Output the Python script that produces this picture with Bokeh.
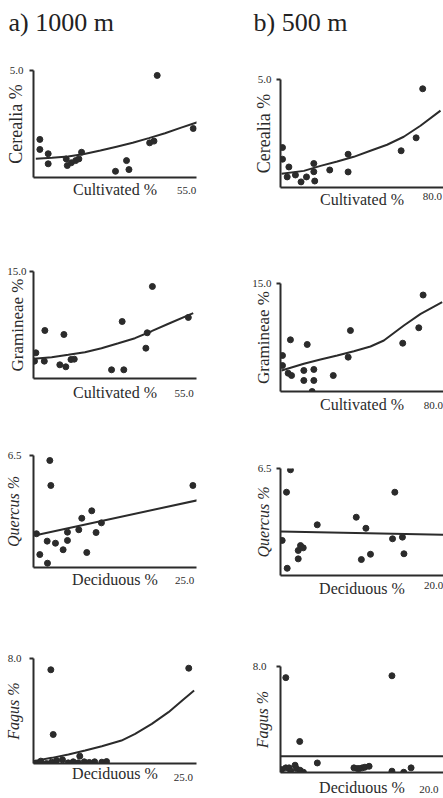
from bokeh.plotting import figure
from bokeh.layouts import row, column
from bokeh.models import Range1d, FixedTicker, NumeralTickFormatter, Title
from bokeh.embed import file_html
from bokeh.resources import INLINE

FONT = "Liberation Serif"
INK = "#2b2b2b"

# ---------------- data ----------------
titles = ["a) 1000 m", "b) 500 m"]

# Cerealia % vs Cultivated %, 1000 m
cer1000_x = [0.5, 0.5, 3.6, 3.6, 10.3, 10.7, 12.2, 13.8, 15.0, 16.0, 28.6, 32.7, 33.6, 41.3, 42.9, 44.1, 57.5]
cer1000_y = [1.78, 1.31, 1.11, 0.64, 0.87, 0.56, 0.69, 0.79, 0.87, 1.18, 0.29, 0.79, 0.37, 1.62, 1.70, 4.77, 2.29]
cer1000_fit_x = [-1, 5, 11, 17, 23, 29, 35, 41, 47, 53, 60]
cer1000_fit_y = [0.88, 0.92, 0.98, 1.10, 1.26, 1.44, 1.62, 1.84, 2.07, 2.33, 2.62]

# Cerealia % vs Cultivated %, 500 m
cer500_x = [0, 0, 3.4, 2.5, 6.9, 9.9, 12.8, 16.7, 16.7, 17.2, 25.2, 35.0, 35.0, 63.3, 71.3, 74.8]
cer500_y = [1.85, 1.31, 0.95, 0.49, 0.58, 0.26, 0.49, 1.11, 0.73, 0.30, 0.81, 1.54, 0.72, 1.70, 2.30, 4.57]
cer500_fit_x = [-0.5, 11.4, 20.3, 29.2, 38.0, 46.9, 55.8, 64.7, 73.6, 84.3]
cer500_fit_y = [0.64, 0.77, 1.00, 1.20, 1.42, 1.70, 1.98, 2.35, 2.86, 3.56]

# Gramineae % vs Cultivated %, 1000 m
gra1000_x = [0.5, 0.0, 3.6, 3.8, 9.3, 11.5, 10.8, 13.4, 14.6, 28.3, 32.8, 32.2, 40.9, 41.4, 43.3, 56.5]
gra1000_y = [3.6, 2.43, 2.43, 6.73, 1.92, 1.64, 6.17, 2.66, 2.71, 1.22, 1.22, 7.99, 4.25, 6.41, 12.9, 8.56]
gra1000_fit_x = [-0.3, 6.3, 12.4, 18.5, 24.6, 30.8, 36.9, 43.0, 49.2, 58.3]
gra1000_fit_y = [2.76, 2.99, 3.32, 3.69, 4.25, 4.95, 5.65, 6.63, 7.67, 9.16]

# Gramineae % vs Cultivated %, 500 m
gra500_x = [0, 0, 3.0, 4.8, 4.2, 11.3, 11.3, 13.1, 16.6, 16.6, 15.7, 26.9, 34.8, 36.0, 63.7, 72.2, 74.5]
gra500_y = [5.0, 3.61, 2.54, 2.22, 7.18, 2.92, 1.53, 6.53, 3.06, 1.53, 0.0, 2.22, 4.77, 8.47, 6.71, 8.85, 13.4]
gra500_fit_x = [-0.5, 11.3, 20.1, 29.0, 37.8, 46.6, 53.7, 64.3, 73.2, 84.6]
gra500_fit_y = [2.92, 3.85, 4.44, 5.0, 5.60, 6.25, 7.08, 9.17, 10.78, 12.4]

# Quercus % vs Deciduous %, 1000 m
que1000_x = [0.33, 0.88, 2.16, 2.11, 2.55, 2.72, 3.49, 4.77, 5.49, 5.49, 7.38, 7.88, 8.71, 9.54, 10.26, 11.15, 26.4]
que1000_y = [1.96, 0.75, 0.25, 1.53, 6.21, 4.76, 1.41, 1.03, 1.57, 2.05, 2.19, 2.86, 0.87, 3.29, 2.03, 2.59, 4.76]
que1000_fit_x = [0, 27.4]
que1000_fit_y = [1.86, 3.92]

# Quercus % vs Deciduous %, 500 m
que500_x = [0.09, 0.66, 1.18, 0.75, 2.2, 2.2, 2.5, 2.86, 4.7, 9.83, 10.5, 11.1, 11.7, 14.6, 14.9, 15.9, 16.1]
que500_y = [2.13, 5.06, 6.42, 0.44, 1.52, 1.01, 1.82, 1.68, 3.08, 3.54, 0.97, 2.87, 1.29, 2.23, 5.06, 2.33, 1.32]
que500_fit_x = [-0.13, 21.3]
que500_fit_y = [2.67, 2.47]

# Fagus % vs Deciduous %, 1000 m
fag1000_x = [2.74, 3.14, 25.9, 0.22, 1.06, 2.0, 2.86, 3.7, 4.7, 5.66, 6.5, 7.34, 7.6, 8.35, 9.2, 10.1, 11.3, 12.1]
fag1000_y = [7.14, 2.21, 7.26, 0.02, 0.18, 0.0, 0.1, 0.23, 0.28, 0.05, 0.13, 0.05, 0.56, 0.13, 0.08, 0.13, 0.1, 0.15]
fag1000_fit_x = [-0.2, 2.9, 5.7, 8.5, 11.3, 14.6, 16.9, 19.7, 22.5, 25.0, 26.8]
fag1000_fit_y = [0.18, 0.43, 0.69, 0.99, 1.32, 1.75, 2.26, 3.02, 3.91, 4.88, 5.56]

# Fagus % vs Deciduous %, 500 m
fag500_x = [0.59, 2.48, 4.87, 15.0, 0.04, 0.59, 1.04, 1.26, 1.85, 2.03, 2.53, 2.98, 9.84, 10.3, 10.6, 10.97, 11.33, 11.9, 15.0, 16.6, 17.6]
fag500_y = [7.16, 2.34, 0.72, 7.30, 0.22, 0.35, 0.35, 0.1, 0.55, 0.3, 0.17, 0.02, 0.35, 0.3, 0.3, 0.35, 0.4, 0.47, 0.1, 0.02, 0.35]
fag500_fit_x = [-0.27, 22.2]
fag500_fit_y = [1.22, 1.22]

# axis maxima shown as tick labels
cult_max_1000 = 55.0
cult_max_500 = 80.0
dec_max_1000 = 25.0
dec_max_500 = 20.0
cer_max = 5.0
gra_max = 15.0
que_max = 6.5
fag_max = 8.0


def panel(w, h, b, xr, yr, xs, ys, fx, fy, xtick, ytick, xlab, ylab, italic,
          ylab_size, xstand, ystand, xls, yls, title=None, title_off=(0, 30)):
    left, right, top, bottom = b
    p = figure(width=w, height=h, output_backend="svg", toolbar_location=None,
               x_range=Range1d(*xr), y_range=Range1d(*yr), title=None,
               min_border_left=left, min_border_right=right,
               min_border_top=top, min_border_bottom=bottom)
    p.outline_line_color = None
    p.xgrid.visible = False
    p.ygrid.visible = False
    p.background_fill_color = "white"
    p.border_fill_color = "white"

    if title is not None:
        spacer = Title(text=" ", text_font_size="1px", standoff=title_off[1])
        p.add_layout(spacer, "above")
        t = Title(text=title, text_font=FONT, text_font_size="26px", text_font_style="normal",
                  text_color="#222222", align="left", offset=title_off[0], standoff=0)
        p.add_layout(t, "above")

    for ax, t, st in ((p.xaxis[0], xtick, xstand), (p.yaxis[0], ytick, ystand)):
        ax.ticker = FixedTicker(ticks=[t])
        ax.formatter = NumeralTickFormatter(format="0.0")
        ax.minor_tick_in = 0
        ax.minor_tick_out = 0
        ax.major_tick_in = 0
        ax.axis_line_width = 2
        ax.axis_line_color = INK
        ax.major_tick_line_width = 2
        ax.major_tick_line_color = INK
        ax.major_label_text_font = FONT
        ax.major_label_text_font_size = "11px"
        ax.major_label_text_color = INK
        ax.major_label_standoff = st
        ax.axis_label_text_font = FONT
        ax.axis_label_text_color = INK
    p.xaxis[0].major_tick_out = 0
    p.yaxis[0].major_tick_out = 4

    p.xaxis[0].axis_label = xlab
    p.xaxis[0].axis_label_text_font_size = "16px"
    p.xaxis[0].axis_label_text_font_style = "normal"
    p.xaxis[0].axis_label_standoff = xls
    p.yaxis[0].axis_label = ylab
    p.yaxis[0].axis_label_text_font_size = ylab_size
    p.yaxis[0].axis_label_text_font_style = "italic" if italic else "normal"
    p.yaxis[0].axis_label_standoff = yls

    p.line(fx, fy, line_width=2, line_color=INK)
    p.scatter(xs, ys, size=6, fill_color=INK, line_color=INK)
    return p


A_LR = (33, 24)
B_LR = (60, 0)

a1 = panel(220, 218, A_LR + (70, 41), (-1.86, 58.7), (0, cer_max), cer1000_x, cer1000_y,
           cer1000_fit_x, cer1000_fit_y, cult_max_1000, cer_max, "Cultivated %", "Cerealia %", False,
           "18px", 9, 6, -16, -19, titles[0], (-25, 31))
a2 = panel(220, 202, A_LR + (53, 42), (-0.37, 59.5), (0, gra_max), gra1000_x, gra1000_y,
           gra1000_fit_x, gra1000_fit_y, cult_max_1000, gra_max, "Cultivated %", "Gramineae %", False,
           "17px", 11, 3, -16, -23)
a3 = panel(220, 185, A_LR + (35, 38), (-0.17, 27.0), (0, que_max), que1000_x, que1000_y,
           que1000_fit_x, que1000_fit_y, dec_max_1000, que_max, "Deciduous %", "Quercus %", True,
           "16px", 9, 8, -16, -17)
a4 = panel(220, 193, A_LR + (53, 35), (-0.17, 27.2), (0, fag_max), fag1000_x, fag1000_y,
           fag1000_fit_x, fag1000_fit_y, dec_max_1000, fag_max, "Deciduous %", "Fagus %", True,
           "16px", 10, 8, -19, -17)

b1 = panel(223, 218, B_LR + (79, 31), (-1.07, 85.9), (0, cer_max), cer500_x, cer500_y,
           cer500_fit_x, cer500_fit_y, cult_max_500, cer_max, "Cultivated %", "Cerealia %", False,
           "18px", 5, 5, -12, -19, titles[1], (-27, 40))
b2 = panel(223, 202, B_LR + (65, 29), (-1.06, 85.3), (0, gra_max), gra500_x, gra500_y,
           gra500_fit_x, gra500_fit_y, cult_max_500, gra_max, "Cultivated %", "Gramineae %", False,
           "17px", 10, 5, -16, -24)
b3 = panel(223, 185, B_LR + (48, 30), (-0.13, 21.3), (0, que_max), que500_x, que500_y,
           que500_fit_x, que500_fit_y, dec_max_500, que_max, "Deciduous %", "Quercus %", True,
           "16px", 6, 5, -12, -17)
b4 = panel(223, 193, B_LR + (61, 25), (-0.13, 22.0), (0, fag_max), fag500_x, fag500_y,
           fag500_fit_x, fag500_fit_y, dec_max_500, fag_max, "Deciduous %", "Fagus %", True,
           "16px", 13, 10, -17, -21)

layout = row(column(a1, a2, a3, a4), column(b1, b2, b3, b4))
open("out.html", "w").write(file_html(layout, INLINE))
